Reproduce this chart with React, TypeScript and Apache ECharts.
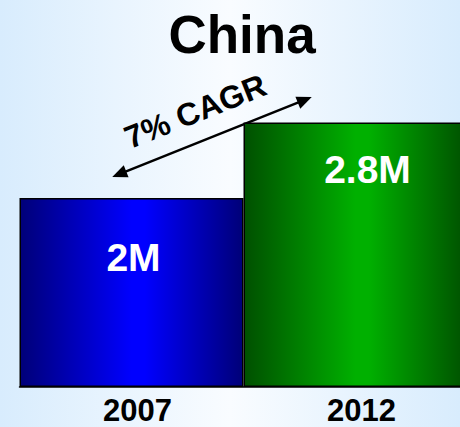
import React, { useEffect, useRef } from "react";
import * as echarts from "echarts";

const categories = ["2007", "2012"];
const values = [2, 2.8];
const valueLabels = ["2M", "2.8M"];
const titleText = "China";
const cagrText = "7% CAGR";

export default function App() {
  const ref = useRef<HTMLDivElement>(null);
  useEffect(() => {
    if (!ref.current) return;
    const chart = echarts.init(ref.current, null, { renderer: "svg" });
    const lg = (c0: string, c1: string) =>
      new echarts.graphic.LinearGradient(0, 0, 1, 0, [
        { offset: 0, color: c0 },
        { offset: 0.5, color: c1 },
        { offset: 0.56, color: c1 },
        { offset: 1, color: c0 },
      ]);
    const barColors = [lg("#000078", "#0000ff"), lg("#005000", "#00b000")];
    const labelDist = [40, 28];
    const labelOffset = [[2, 0], [12, 0]];
    const ang = Math.atan2(80, 200);
    const len = 215;
    const half = len / 2;
    const head = 15;
    const hw = 6.5;
    chart.setOption({
      animation: false,
      backgroundColor: new echarts.graphic.LinearGradient(0, 0, 1, 0, [
        { offset: 0, color: "#d8ecfd" },
        { offset: 0.5, color: "#f9fcff" },
        { offset: 1, color: "#d8ecfd" },
      ]),
      title: {
        text: titleText,
        left: 237,
        textAlign: "center",
        top: 3,
        textStyle: {
          fontFamily: "Liberation Sans, Arial, sans-serif",
          fontWeight: "bold",
          fontSize: 53,
          color: "#000",
        },
      },
      grid: { left: 19.5, width: 448, top: 9, bottom: 40, outerBoundsMode: "none", containLabel: false },
      xAxis: {
        type: "category",
        data: categories,
        axisLine: { lineStyle: { color: "#000", width: 1.5 } },
        axisTick: { show: false },
        axisLabel: {
          fontFamily: "Liberation Sans, Arial, sans-serif",
          fontWeight: "bold",
          fontSize: 31,
          color: "#000",
          margin: 8,
          padding: [0, 0, 0, 12],
        },
      },
      yAxis: {
        type: "value",
        min: 0,
        max: 4,
        show: false,
        splitLine: { show: false },
      },
      series: [
        {
          type: "bar",
          barWidth: "100%",
          data: values.map((v, i) => ({
            value: v,
            itemStyle: { color: barColors[i], borderColor: "#000", borderWidth: 1.5 },
            label: {
              show: true,
              position: "insideTop",
              distance: labelDist[i],
              offset: labelOffset[i],
              formatter: valueLabels[i],
              color: "#fff",
              fontFamily: "Liberation Sans, Arial, sans-serif",
              fontWeight: "bold",
              fontSize: 39,
            },
          })),
        },
      ],
      graphic: [
        {
          type: "group",
          x: 212,
          y: 137,
          rotation: ang,
          children: [
            {
              type: "line",
              shape: { x1: -half + head - 2, y1: 0, x2: half - head + 2, y2: 0 },
              style: { stroke: "#000", lineWidth: 2.5 },
            },
            {
              type: "polygon",
              shape: { points: [[half, 0], [half - head, -hw], [half - head, hw]] },
              style: { fill: "#000" },
            },
            {
              type: "polygon",
              shape: { points: [[-half, 0], [-half + head, -hw], [-half + head, hw]] },
              style: { fill: "#000" },
            },
            {
              type: "text",
              x: -6,
              y: -30,
              style: {
                text: cagrText,
                fontFamily: "Liberation Sans, Arial, sans-serif",
                fontWeight: "bold",
                fontSize: 32,
                fill: "#000",
                align: "center",
                verticalAlign: "middle",
              },
            },
          ],
        },
      ],
    });
    return () => chart.dispose();
  }, []);
  return (
    <div
      ref={ref}
      style={{ position: "fixed", left: 0, top: 0, width: 460, height: 427 }}
    />
  );
}
